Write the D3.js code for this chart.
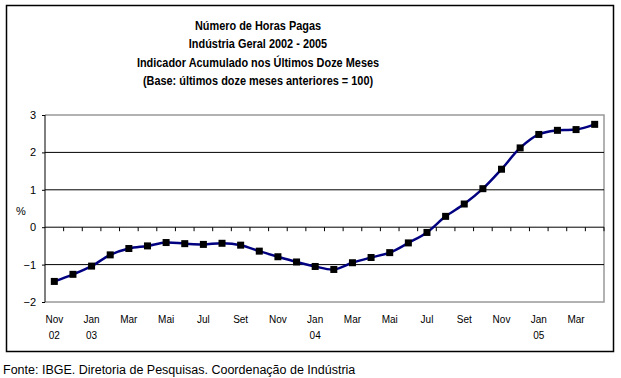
<!DOCTYPE html>
<html>
<head>
<meta charset="utf-8">
<script src="https://cdn.jsdelivr.net/npm/d3@7"></script>
<style>
  body { margin: 0; background: #fff; }
  text { font-family: "Liberation Sans", Arial, sans-serif; }
</style>
</head>
<body>
<script>
// monthly labels, Nov 02 .. Apr 05
const months = ["Nov", "Dez", "Jan", "Fev", "Mar", "Abr", "Mai", "Jun", "Jul", "Ago", "Set", "Out",
    "Nov", "Dez", "Jan", "Fev", "Mar", "Abr", "Mai", "Jun", "Jul", "Ago", "Set", "Out",
    "Nov", "Dez", "Jan", "Fev", "Mar", "Abr"];
const years = ["02", "", "03", "", "", "", "", "", "", "", "", "",
    "", "", "04", "", "", "", "", "", "", "", "", "",
    "", "", "05", "", "", ""];
const values = [-1.45, -1.26, -1.04, -0.74, -0.57, -0.50, -0.41, -0.44, -0.46, -0.43, -0.48, -0.64,
    -0.79, -0.93, -1.05, -1.13, -0.95, -0.81, -0.68, -0.42, -0.14, 0.29, 0.62, 1.03,
    1.55, 2.12, 2.48, 2.59, 2.61, 2.75];
const yTicks = [-2, -1, 0, 1, 2, 3];
const titleLines = ["Número de Horas Pagas", "Indústria Geral 2002 - 2005",
    "Indicador Acumulado nos Últimos Doze Meses", "(Base: últimos doze meses anteriores = 100)"];

function main() {
    const svg = d3.select("body").append("svg")
        .attr("width", 621)
        .attr("height", 378);

    const left = 45, right = 604, top = 115, bottom = 302;

    const idx = d3.range(values.length);
    const x = d3.scaleBand().domain(idx).range([left, right]);
    const y = d3.scaleLinear().domain([-2, 3]).range([bottom, top]);

    // outer frame
    svg.append("rect")
        .attr("x", 6.5).attr("y", 5.5)
        .attr("width", 607).attr("height", 346)
        .attr("fill", "none").attr("stroke", "#000").attr("stroke-width", 1.5);

    // title (condensed look)
    svg.append("g")
        .attr("transform", "translate(258,0) scale(0.84,1)")
        .selectAll("text")
        .data(titleLines)
        .enter().append("text")
        .attr("x", 0)
        .attr("y", (d, i) => 30 + i * 18.5)
        .attr("text-anchor", "middle")
        .style("font-size", "13px")
        .style("font-weight", "bold")
        .text(d => d);

    // plot border (gray)
    svg.append("path")
        .attr("d", `M${left},${top}H${right}V${bottom}H${left}`)
        .attr("fill", "none").attr("stroke", "#999").attr("stroke-width", 1.5);

    // gridlines
    svg.append("g").selectAll("line")
        .data(yTicks.filter(d => d > -2 && d < 3 && d !== 0))
        .enter().append("line")
        .attr("x1", left).attr("x2", right)
        .attr("y1", d => y(d)).attr("y2", d => y(d))
        .attr("stroke", "#000").attr("stroke-width", 1);

    // y axis
    const yAxis = svg.append("g")
        .attr("transform", `translate(${left},0)`)
        .call(d3.axisLeft(y).tickValues(yTicks).tickSize(3).tickPadding(6).tickFormat(d3.format("d")));
    yAxis.selectAll("text").style("font-size", "11px");
    yAxis.select(".domain").attr("d", `M0,${top}V${bottom}`);

    // category axis at zero with ticks between categories
    const bounds = d3.range(values.length + 1).map(i => left + i * x.step());
    const xg = svg.append("g");
    xg.append("line")
        .attr("x1", left).attr("x2", right)
        .attr("y1", y(0)).attr("y2", y(0))
        .attr("stroke", "#000");
    xg.selectAll(".tk")
        .data(bounds.slice(1))
        .enter().append("line")
        .attr("class", "tk")
        .attr("x1", d => d).attr("x2", d => d)
        .attr("y1", y(0)).attr("y2", y(0) + 4)
        .attr("stroke", "#000");

    // x labels at bottom, every second month
    const lab = svg.append("g");
    lab.selectAll(".m")
        .data(idx.filter(i => i % 2 === 0))
        .enter().append("text")
        .attr("x", i => x(i) + x.bandwidth() / 2)
        .attr("y", 323)
        .attr("text-anchor", "middle")
        .style("font-size", "10px")
        .text(i => months[i]);
    lab.selectAll(".yr")
        .data(idx.filter(i => years[i] !== ""))
        .enter().append("text")
        .attr("x", i => x(i) + x.bandwidth() / 2)
        .attr("y", 339)
        .attr("text-anchor", "middle")
        .style("font-size", "10px")
        .text(i => years[i]);

    svg.append("text")
        .attr("x", 21).attr("y", 215)
        .attr("text-anchor", "middle")
        .style("font-size", "11px")
        .text("%");

    // line
    const line = d3.line()
        .x((d, i) => x(i) + x.bandwidth() / 2)
        .y(d => y(d))
        .curve(d3.curveCatmullRom.alpha(0.5));
    svg.append("path")
        .datum(values)
        .attr("d", line)
        .attr("fill", "none")
        .attr("stroke", "#000080")
        .attr("stroke-width", 2.5);

    svg.append("g").selectAll("rect")
        .data(values)
        .enter().append("rect")
        .attr("x", (d, i) => x(i) + x.bandwidth() / 2 - 3.5)
        .attr("y", d => y(d) - 3.5)
        .attr("width", 7).attr("height", 7)
        .attr("fill", "#000");

    svg.append("text")
        .attr("x", 3).attr("y", 374)
        .style("font-size", "12.5px")
        .text("Fonte: IBGE. Diretoria de Pesquisas. Coordenação de Indústria");
}
main();
</script>
</body>
</html>
